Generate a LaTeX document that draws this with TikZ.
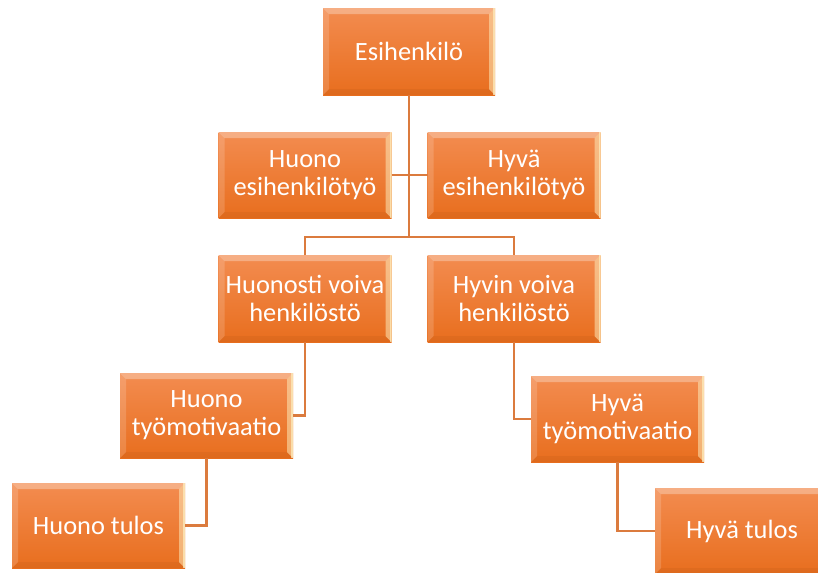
\documentclass[tikz,border=0pt]{standalone}
\usepackage{fontspec}
\setmainfont{Carlito}
\definecolor{ortop}{HTML}{F38C50}
\definecolor{orbot}{HTML}{E86E1E}
\definecolor{conn}{HTML}{DB7B3E}
\definecolor{palerim}{HTML}{FCE8B8}
\newcommand{\bvw}{4.5pt}
\tikzset{
  box/.style={rectangle, inner sep=0pt, outer sep=0pt,
    minimum width=129.75pt, minimum height=64.5pt,
    text=white, align=center,
    font=\fontsize{19.8}{21}\selectfont,
    top color=ortop, bottom color=orbot,
    path picture={
      \fill[white,opacity=0.3] (path picture bounding box.north west) -- (path picture bounding box.north east)
        -- ([xshift=-\bvw,yshift=-\bvw]path picture bounding box.north east)
        -- ([xshift=\bvw,yshift=-\bvw]path picture bounding box.north west) -- cycle;
      \fill[white,opacity=0.16] (path picture bounding box.north west)
        -- ([xshift=\bvw,yshift=-\bvw]path picture bounding box.north west)
        -- ([xshift=\bvw,yshift=\bvw]path picture bounding box.south west)
        -- (path picture bounding box.south west) -- cycle;
      \fill[palerim,opacity=0.55] (path picture bounding box.north east)
        -- (path picture bounding box.south east)
        -- ([xshift=-\bvw,yshift=\bvw]path picture bounding box.south east)
        -- ([xshift=-\bvw,yshift=-\bvw]path picture bounding box.north east) -- cycle;
      \fill[palerim,opacity=0.8] ([xshift=-1.5pt]path picture bounding box.north east) rectangle (path picture bounding box.south east);
      \fill[black,opacity=0.04] (path picture bounding box.south west)
        -- ([xshift=\bvw,yshift=\bvw]path picture bounding box.south west)
        -- ([xshift=-\bvw,yshift=\bvw]path picture bounding box.south east)
        -- (path picture bounding box.south east) -- cycle;
    }},
  link/.style={draw=conn, line width=1.6pt}
}
\begin{document}
\begin{tikzpicture}[x=0.75pt,y=-0.75pt]
\useasboundingbox (0,0) rectangle (818,572);
\clip (0,0) rectangle (818,572);
\node[box, minimum width=129pt, minimum height=65.25pt] (E) at (409,51.5) {Esihenkilö};
\node[box] (HE) at (305,175) {Huono\\esihenkilötyö};
\node[box] (GE) at (514,175) {Hyvä\\esihenkilötyö};
\node[box, minimum height=65.25pt] (HV) at (305,298.5) {Huonosti voiva\\henkilöstö};
\node[box, minimum height=65.25pt] (GV) at (514,298.5) {Hyvin voiva\\henkilöstö};
\node[box, minimum height=63.75pt] (HT) at (206.5,415.5) {Huono\\työmotivaatio};
\node[box] (GT) at (617.5,419) {Hyvä\\työmotivaatio};
\node[box, minimum height=63.75pt] (HR) at (98.5,525.5) {Huono tulos};
\node[box, minimum width=130.5pt] (GR) at (742,531) {Hyvä tulos};
\coordinate (J) at (409,237);
\draw[link] (E.south) -- (J);
\draw[link] (HE.east) -- (GE.west);
\draw[link] (HV.north) |- (J) -| (GV.north);
\draw[link] (HV.south) |- (HT.east);
\draw[link] (GV.south) |- (GT.west);
\draw[link] (HT.south) |- (HR.east);
\draw[link] (GT.south) |- (GR.west);
\end{tikzpicture}
\end{document}
